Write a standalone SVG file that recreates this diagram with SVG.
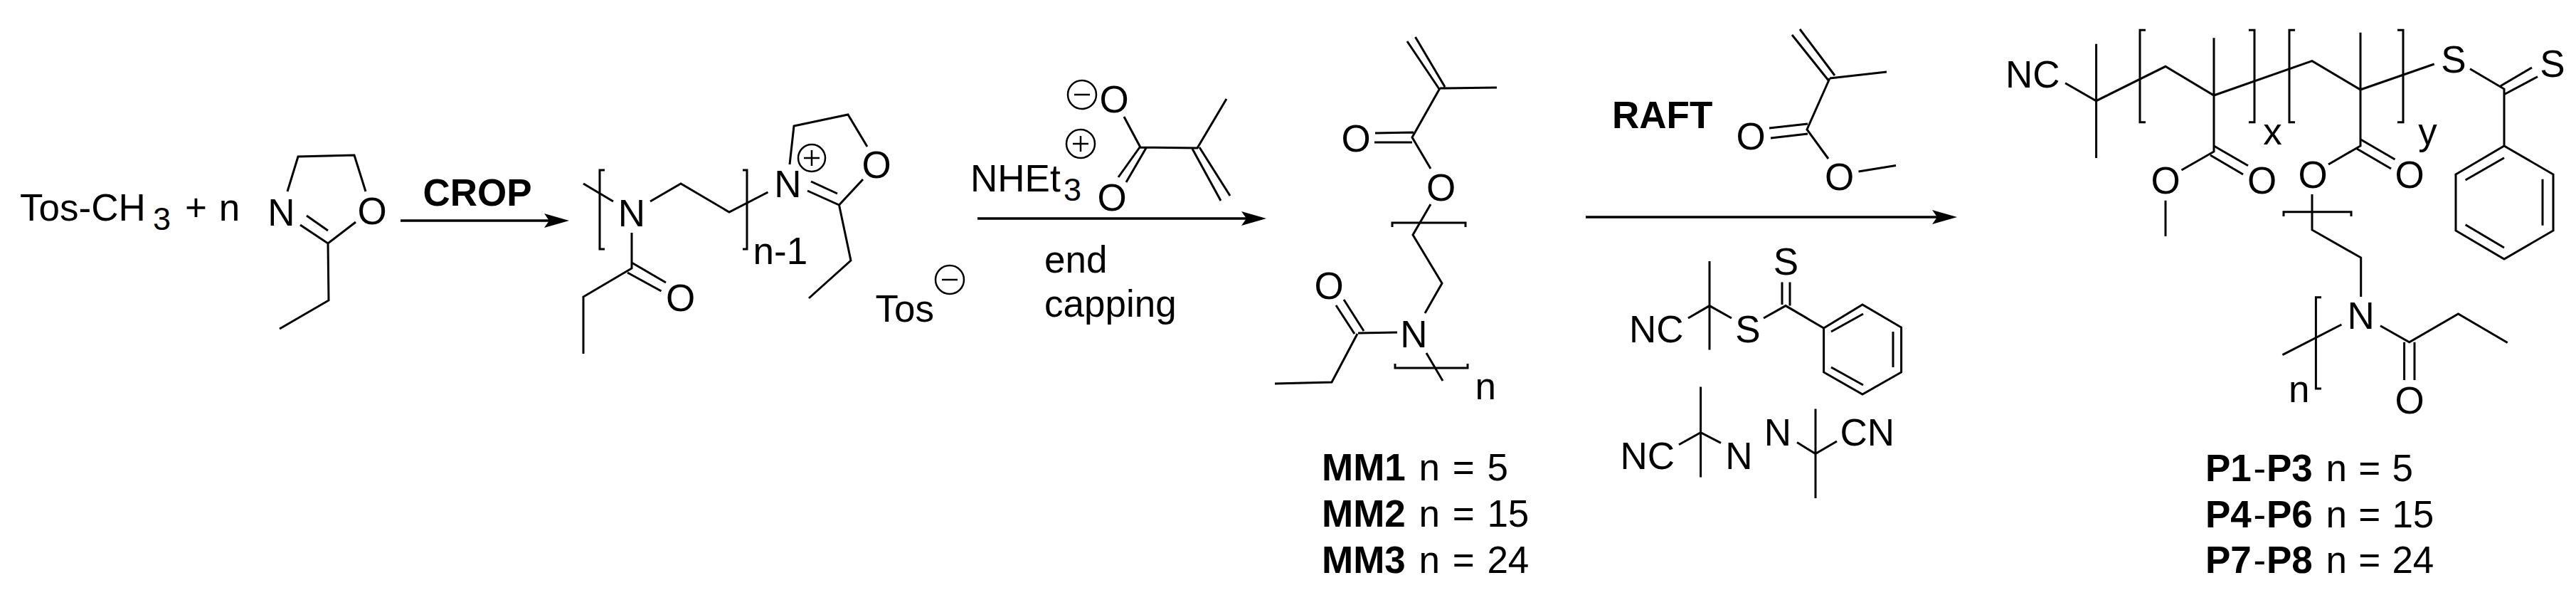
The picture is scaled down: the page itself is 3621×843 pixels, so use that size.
<svg xmlns="http://www.w3.org/2000/svg" width="3621" height="843" viewBox="0 0 3621 843">
<style>
text{font-family:"Liberation Sans",Arial,sans-serif;font-size:53px;fill:#000}
.a{text-anchor:middle}
.b{font-weight:700}
.s{font-size:45px}
.k{word-spacing:3px}
.q{word-spacing:1.5px}
path{fill:none;stroke:#000;stroke-width:3}
circle{fill:none;stroke:#000;stroke-width:2.5}
.c{stroke-width:2.5}
.ar{stroke-width:3.5}
</style>
<defs>
<marker id="head" markerUnits="userSpaceOnUse" markerWidth="36" markerHeight="22" refX="25" refY="10" orient="auto">
<path d="M0 0L35 10L0 20L7 10Z" style="fill:#000;stroke:none"/>
</marker>
</defs>
<rect width="3621" height="843" fill="#fff"/>
<g id="connectors">
<path class="ar" d="M563 310H790" marker-end="url(#head)"/>
<path class="ar" d="M1374 307H1770" marker-end="url(#head)"/>
<path class="ar" d="M2229 305H2741" marker-end="url(#head)"/>
</g>
<g id="tos-ch3"><text x="28" y="310">Tos-CH</text><text class="s" x="215" y="323">3</text><text class="k" x="260" y="310" style="word-spacing:2px">+ n</text></g>
<g id="oxazoline">
<text class="a" x="395.5" y="317">N</text><text class="a" x="523" y="315">O</text>
<path d="M404 269L419 220L498 218L514 269M422 316L461 342L500 312M431 303L461 324M461 342L462 422L393 462"/>
</g>
<g id="crop-label"><text class="b" x="594.5" y="289">CROP</text></g>
<g id="living-polymer">
<text class="a" x="888" y="318">N</text><text class="a" x="1107.5" y="277">N</text><text class="a" x="1232" y="250">O</text><text class="a" x="956.5" y="437">O</text>
<text x="1058.5" y="371">n-1</text>
<path d="M850 239H843V350H850M1044 239H1050V350H1044"/>
<path d="M820 258L862 283M914 283L957 258L1025 298L1079.5 270M888 327V377L820 417V497M888 369L936 397M882 383L929.5 409"/>
<path d="M1110 231L1116 177L1192 161L1219 206M1135 268L1179.5 288L1213 252M1140 255L1177 272M1179.5 288L1196 366L1137 419"/>
<circle cx="1141" cy="222" r="19"/><path class="c" d="M1141 211V233M1130 222H1152"/>
</g>
<g id="tosylate"><text x="1230.5" y="452">Tos</text><circle cx="1335" cy="393" r="20"/><path class="c" d="M1324 393H1346"/></g>
<g id="triethylammonium-methacrylate">
<text x="1364" y="269">NHEt</text><text class="s" x="1495" y="282">3</text>
<text class="a" x="1566" y="158">O</text><text class="a" x="1563" y="296">O</text>
<circle cx="1521" cy="133" r="20"/><path class="c" d="M1510 133H1532"/>
<circle cx="1519" cy="202" r="20"/><path class="c" d="M1519 191V213M1508 202H1530"/>
<path d="M1580 164L1603 207L1683 208L1724 139M1602 207L1572 249M1611 208L1583 256M1676 209L1716 282M1686 207L1729 275"/>
</g>
<g id="end-capping-label"><text x="1468" y="383">end</text><text x="1468" y="445">capping</text></g>
<g id="macromonomer">
<text class="a" x="1906" y="213">O</text><text class="a" x="2025.5" y="282">O</text><text class="a" x="1987.5" y="488">N</text><text class="a" x="1868" y="420">O</text>
<text x="2073.5" y="561">n</text>
<path d="M2023 125L1978 58M2031 122L1989.5 52M2024 124L2104 123M2024 124L1985 193L2011 237M1987 186L1933 187M1985 200L1932 200"/>
<path d="M2011 287L1986 330L2027 398L2003 440M1909 468L1964 467M1904 469L1878 429M1917 465L1889 421M1908 469L1872 537L1792 539M2005 496L2028 535"/>
<path d="M1957 319V313H2060V319M1961 511V517H2063V511"/>
</g>
<g id="mm-labels">
<text x="1858" y="675"><tspan class="b">MM1</tspan></text><text class="k" x="1994.5" y="675">n = 5</text>
<text x="1858" y="740"><tspan class="b">MM2</tspan></text><text class="k" x="1994.5" y="740">n = 15</text>
<text x="1858" y="804.5"><tspan class="b">MM3</tspan></text><text class="k" x="1994.5" y="804.5">n = 24</text>
</g>
<g id="raft-label"><text class="b" x="2266" y="180">RAFT</text></g>
<g id="mma">
<text class="a" x="2461" y="210">O</text><text class="a" x="2585.5" y="267">O</text>
<path d="M2571 114L2519 49M2579 106L2530 41M2572 110L2652 101M2572 110L2540 182L2570 223M2541 174L2487 180M2541 188L2489 194M2612.5 241L2665 232.6"/>
</g>
<g id="cpadb">
<text x="2290" y="480.5">NC</text><text class="a" x="2457" y="480.5">S</text><text class="a" x="2510.5" y="386">S</text>
<path d="M2403 367V491.5M2373 447L2403 429.6L2434 447M2479 447L2510 429.6L2563.6 461M2505 396.5V428M2516 396.5V429.6"/>
<path d="M2563.6 461L2618 428L2672.6 460V523L2618 554L2563.6 523ZM2574 466L2619 441M2661 466V516M2574 516L2619 541"/>
</g>
<g id="aibn">
<text x="2277.5" y="659">NC</text><text class="a" x="2444.5" y="659">N</text><text class="a" x="2499" y="626">N</text><text x="2586.5" y="626">CN</text>
<path d="M2390.6 543.4V670.6M2360 624.7L2390.6 607.7L2419 622.4M2552 574.6V700M2526 621.5L2552 637.6L2582 620"/>
</g>
<g id="copolymer">
<text x="2819" y="122.7">NC</text><text class="a" x="3449" y="101.7">S</text><text class="a" x="3588" y="107.7">S</text>
<text class="a" x="3194.5" y="202.7">x</text><text class="a" x="3412.5" y="203">y</text>
<text class="a" x="3044" y="272">O</text><text class="a" x="3179.5" y="272">O</text><text class="a" x="3251" y="264">O</text><text class="a" x="3387" y="264">O</text>
<text class="a" x="3318.7" y="462">N</text><text x="3217" y="565">n</text><text class="a" x="3387" y="580.6">O</text>
<path d="M3016 42.3H3008V171.7H3016M3161 42.3H3169V171.7H3161M3226 42.3H3218V171.7H3226M3370 42.3H3378V171.7H3370M3210 304V297.7H3305V304M3263 417.8H3255.4V546H3263"/>
<path d="M2903 116.7L2946.6 141.7L3044 93.3L3112 134L3250 85.7L3318 126L3421.7 90M2946.6 61.7V222M3112 53.3V213L3066.5 239M3318 45.7V205L3273 231"/>
<path d="M3112 205L3160 232.7M3107 218L3153 245M3044 281.7V332M3318 195.7L3366.5 224M3313 209L3361 237M3250 273V323L3318.7 362V417"/>
<path d="M3472 96.7L3520 125V205M3515 120.7L3559 95M3520 132.7L3567 107.7"/>
<path d="M3520 205L3589 245V324L3520 364L3452 324V245ZM3465.6 253L3520 221.7M3574 251.7V316.7M3465.6 315.7L3520 348"/>
<path d="M3291.4 456L3208.4 498.7M3346 457.7L3386.7 480.8L3455.5 441L3524.7 481.5M3379.6 480.8V534M3394 480.8V534"/>
</g>
<g id="p-labels">
<text y="676"><tspan class="b" x="3100">P1</tspan><tspan x="3167.5">-</tspan><tspan class="b" x="3186">P3</tspan></text><text class="q" x="3269.5" y="676">n = 5</text>
<text y="741"><tspan class="b" x="3100">P4</tspan><tspan x="3167.5">-</tspan><tspan class="b" x="3186">P6</tspan></text><text class="q" x="3269.5" y="741">n = 15</text>
<text y="804.5"><tspan class="b" x="3100">P7</tspan><tspan x="3167.5">-</tspan><tspan class="b" x="3186">P8</tspan></text><text class="q" x="3269.5" y="804.5">n = 24</text>
</g>
</svg>
